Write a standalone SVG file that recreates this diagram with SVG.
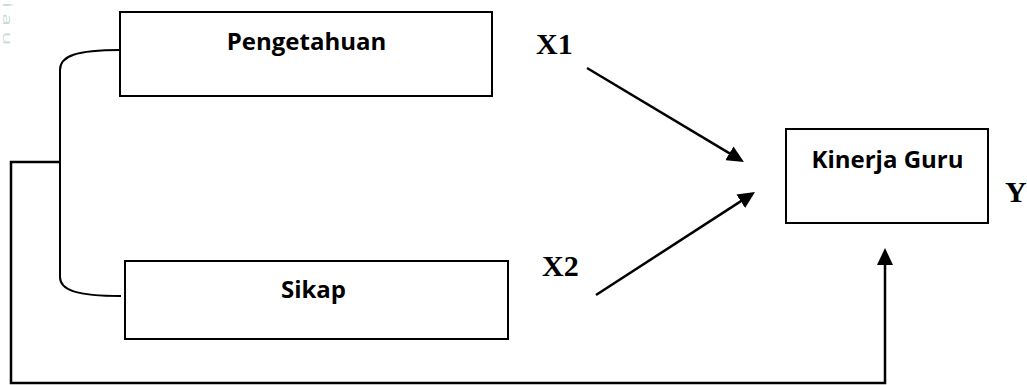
<svg xmlns="http://www.w3.org/2000/svg" width="1027" height="385" viewBox="0 0 1027 385">
  <style>
    .box { fill: #ffffff; stroke: #000000; stroke-width: 2; }
    .lbl { font-family: "Open Sans", "Liberation Sans", sans-serif; font-weight: bold; font-size: 24px; fill: #000; text-anchor: middle; }
    .var { font-family: "Liberation Serif", "Times New Roman", serif; font-weight: bold; font-size: 30px; fill: #000; }
    .ln { fill: none; stroke: #000; stroke-width: 2; }
    .arr { fill: none; stroke: #000; stroke-width: 2.5; marker-end: url(#ah); }
    .wm { font-family: "Open Sans", "Liberation Sans", sans-serif; font-size: 22px; letter-spacing: 6px; fill: #c6dcd3; }
  </style>
  <defs>
    <marker id="ah" markerUnits="userSpaceOnUse" markerWidth="18" markerHeight="16" viewBox="0 0 18 16" refX="9" refY="8" orient="auto">
      <path d="M0,0 L17,8 L0,16 z" fill="#000"/>
    </marker>
  </defs>
  <rect width="1027" height="385" fill="#ffffff"/>
  <text class="wm" transform="translate(3,2) rotate(90) scale(1,0.6)">iau</text>

  <g id="connectors">
    <path class="ln" d="M120,50 C76,50 60,56 60,70 L60,277 C60,290 76,296 121,296"/>
    <path class="ln" d="M60,162 L11,162 L11,383 L885,383 L885,258" style="stroke-width:2.5"/>
    <path d="M885,258 L885,256" class="arr"/>
    <line class="arr" x1="587" y1="68" x2="737.1" y2="157.9"/>
    <line class="arr" x1="596" y1="295" x2="748.3" y2="196.4"/>
  </g>

  <g id="node-pengetahuan">
    <rect class="box" x="120" y="12" width="372" height="84"/>
    <text class="lbl" x="306.5" y="50">Pengetahuan</text>
  </g>
  <g id="node-sikap">
    <rect class="box" x="125" y="261" width="383" height="78"/>
    <text class="lbl" x="313.5" y="298">Sikap</text>
  </g>
  <g id="node-kinerja">
    <rect class="box" x="786" y="129" width="202" height="94"/>
    <text class="lbl" x="887.5" y="168">Kinerja Guru</text>
  </g>
  <g id="labels">
    <text class="var" x="536" y="54">X1</text>
    <text class="var" x="542" y="276">X2</text>
    <text class="var" x="1005" y="202">Y</text>
  </g>
</svg>
